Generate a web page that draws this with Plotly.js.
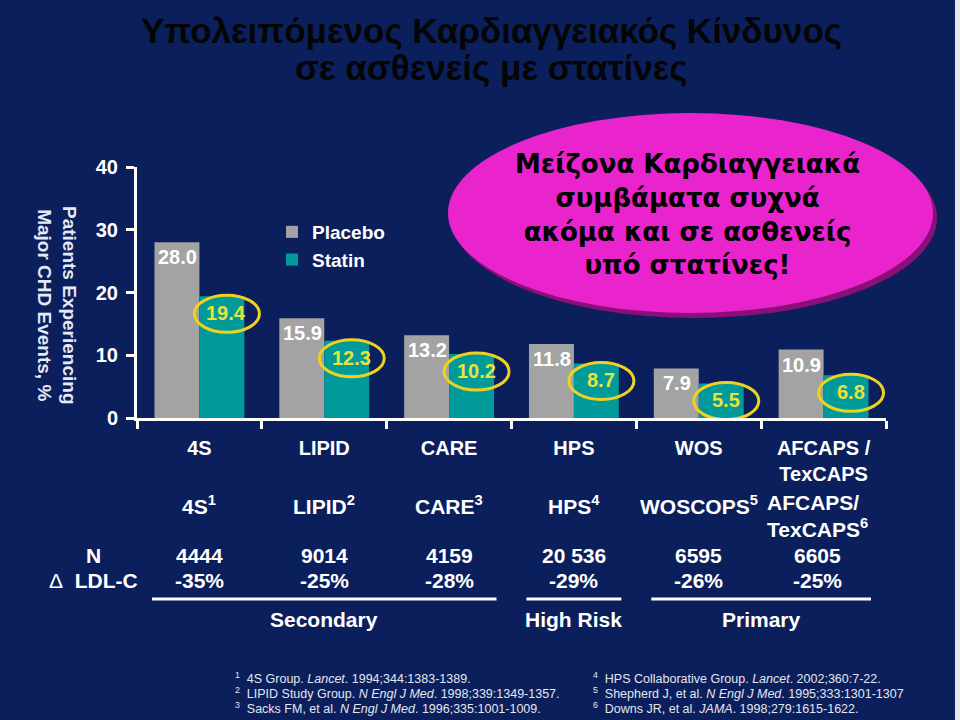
<!DOCTYPE html>
<html>
<head>
<meta charset="utf-8">
<script src="https://cdn.plot.ly/plotly-3.0.1.min.js"></script>
<style>html,body{margin:0;padding:0;background:#0c2160;}#chart{width:960px;height:720px;}</style>
</head>
<body>
<div id="chart"></div>
<script>
// ---- data ----
const studies = ['4S', 'LIPID', 'CARE', 'HPS', 'WOS', 'AFCAPS /<br>TexCAPS'];
const placebo = [28.0, 15.9, 13.2, 11.8, 7.9, 10.9];
const statin = [19.4, 12.3, 10.2, 8.7, 5.5, 6.8];
const trialNames = ['4S', 'LIPID', 'CARE', 'HPS', 'WOSCOPS', 'AFCAPS/<br>TexCAPS'];
const refNums = ['1', '2', '3', '4', '5', '6'];
const nPatients = ['4444', '9014', '4159', '20 536', '6595', '6605'];
const ldlChange = ['-35%', '-25%', '-28%', '-29%', '-26%', '-25%'];
const groupNames = ['Secondary', 'High Risk', 'Primary'];
const groupFirst = [0, 3, 4];
const groupLast = [2, 3, 5];
const yTicks = [0, 10, 20, 30, 40];
const refsLeft = [
  '<sup>1</sup>  4S Group. <i>Lancet</i>. 1994;344:1383-1389.',
  '<sup>2</sup>  LIPID Study Group. <i>N Engl J Med</i>. 1998;339:1349-1357.',
  '<sup>3</sup>  Sacks FM, et al. <i>N Engl J Med</i>. 1996;335:1001-1009.'
];
const refsRight = [
  '<sup>4</sup>  HPS Collaborative Group. <i>Lancet</i>. 2002;360:7-22.',
  '<sup>5</sup>  Shepherd J, et al. <i>N Engl J Med</i>. 1995;333:1301-1307',
  '<sup>6</sup>  Downs JR, et al. <i>JAMA</i>. 1998;279:1615-1622.'
];
const titleLines = ['Υπολειπόμενος Καρδιαγγειακός Κίνδυνος', 'σε ασθενείς με στατίνες'];
const calloutText = 'Μείζονα Καρδιαγγειακά<br>συμβάματα συχνά<br>ακόμα και σε ασθενείς<br>υπό στατίνες!';
const yTitle = 'Patients Experiencing<br>Major CHD Events, %';

// ---- layout helpers (pixel -> paper) ----
const L = 137, R = 886, T = 167, B = 418;
const px = p => (p - L) / (R - L);
const py = p => (B - p) / (B - T);

const BG = '#0b1f5d';
const GRAY = '#a3a3a3';
const TEAL = '#009a9a';
const YEL = '#f0d21e';
const YTXT = '#e6e43c';
const F = 'Liberation Sans, Arial, sans-serif';

const traces = [
  {type: 'bar', name: 'Placebo', x: studies, y: placebo, marker: {color: GRAY}, hoverinfo: 'skip'},
  {type: 'bar', name: 'Statin', x: studies, y: statin, marker: {color: TEAL}, hoverinfo: 'skip'}
];

const annotations = [];
const shapes = [];

// value labels
placebo.forEach((v, i) => annotations.push({
  x: i, y: v, xref: 'x', yref: 'y', xshift: -22, yshift: -15,
  text: v.toFixed(1), showarrow: false,
  font: {family: F, size: 20, color: '#ffffff', weight: 'bold'}
}));
statin.forEach((v, i) => {
  annotations.push({
    x: i, y: v, xref: 'x', yref: 'y', xshift: 27, yshift: -17,
    text: v.toFixed(1), showarrow: false,
    font: {family: F, size: 20, color: YTXT, weight: 'bold'}
  });
  shapes.push({
    type: 'circle', xref: 'x', yref: 'y', xsizemode: 'pixel', ysizemode: 'pixel',
    xanchor: i, yanchor: v, x0: -5, x1: 60, y0: -36, y1: 1,
    line: {color: YEL, width: 3}, fillcolor: 'rgba(0,0,0,0)', layer: 'above'
  });
});

// title
titleLines.forEach((t, i) => annotations.push({
  xref: 'paper', yref: 'paper', x: px(491), y: py(30 + 38 * i), xanchor: 'center', yanchor: 'middle',
  text: t, showarrow: false, align: 'center',
  font: {family: F, size: 35, color: '#050505', weight: 'bold'}
}));

// y title (rotated clockwise)
annotations.push({
  xref: 'paper', yref: 'paper', x: px(57), y: py(305), xanchor: 'center', yanchor: 'middle',
  text: yTitle, showarrow: false, textangle: 90, align: 'center',
  font: {family: F, size: 19, color: '#e4e9f6', weight: 'bold'}
});

// callout ellipse
shapes.push({
  type: 'circle', xref: 'paper', yref: 'paper', layer: 'above',
  x0: px(452), x1: px(937), y0: py(118), y1: py(318),
  fillcolor: '#8a1078', line: {width: 0}
});
shapes.push({
  type: 'circle', xref: 'paper', yref: 'paper', layer: 'above',
  x0: px(448), x1: px(933), y0: py(113), y1: py(313),
  fillcolor: '#ea24cc', line: {width: 0}
});
annotations.push({
  xref: 'paper', yref: 'paper', x: px(687), y: py(214), xanchor: 'center', yanchor: 'middle',
  text: calloutText, showarrow: false, align: 'center',
  font: {family: 'DejaVu Sans, Verdana, sans-serif', size: 26, color: '#000000', weight: 'bold'}
});

// table rows
const TF = {family: F, size: 21, color: '#ffffff', weight: 'bold'};
trialNames.forEach((t, i) => {
  const multi = t.indexOf('<br>') >= 0;
  annotations.push({
    xref: 'x', yref: 'paper', x: i, y: py(multi ? 516 : 505), xanchor: 'center', yanchor: 'middle',
    xshift: multi ? -6 : 0,
    text: t + '<sup>' + refNums[i] + '</sup>', showarrow: false, align: multi ? 'left' : 'center',
    font: TF
  });
  annotations.push({
    xref: 'x', yref: 'paper', x: i, y: py(555), xanchor: 'center', yanchor: 'middle',
    xshift: multi ? -6 : 0,
    text: nPatients[i], showarrow: false, font: TF
  });
  annotations.push({
    xref: 'x', yref: 'paper', x: i, y: py(580), xanchor: 'center', yanchor: 'middle',
    xshift: multi ? -6 : 0,
    text: ldlChange[i], showarrow: false, font: TF
  });
});
annotations.push({
  xref: 'paper', yref: 'paper', x: px(93), y: py(555), xanchor: 'center', yanchor: 'middle',
  text: 'N', showarrow: false, font: TF
});
annotations.push({
  xref: 'paper', yref: 'paper', x: px(140), y: py(580), xanchor: 'right', yanchor: 'middle',
  text: '<span style="font-weight:normal">Δ</span>  LDL-C', showarrow: false, font: TF
});

// group lines and labels
groupNames.forEach((g, k) => {
  const a = groupFirst[k] - 0.5 + 0.12, b = groupLast[k] + 0.5 - 0.12;
  shapes.push({
    type: 'line', xref: 'x', yref: 'paper', x0: a, x1: b, y0: py(599), y1: py(599),
    line: {color: '#ffffff', width: 3}
  });
  annotations.push({
    xref: 'x', yref: 'paper', x: (a + b) / 2, y: py(619), xanchor: 'center', yanchor: 'middle',
    text: g, showarrow: false, font: TF
  });
});

// footnotes
const FF = {family: F, size: 12.5, color: '#e4e6ee'};
refsLeft.forEach((t, i) => annotations.push({
  xref: 'paper', yref: 'paper', x: px(233), y: py(678 + 15 * i), xanchor: 'left', yanchor: 'middle',
  text: t, showarrow: false, font: FF
}));
refsRight.forEach((t, i) => annotations.push({
  xref: 'paper', yref: 'paper', x: px(591), y: py(678 + 15 * i), xanchor: 'left', yanchor: 'middle',
  text: t, showarrow: false, font: FF
}));

// slide edge
shapes.push({
  type: 'rect', xref: 'paper', yref: 'paper', x0: px(955), x1: px(962), y0: py(-2), y1: py(722),
  fillcolor: '#e8e8ee', line: {width: 0}, layer: 'above'
});

const layout = {
  width: 960, height: 720,
  paper_bgcolor: BG, plot_bgcolor: BG,
  margin: {l: L, r: 960 - R, t: T, b: 720 - B, pad: 0},
  barmode: 'group', bargap: 0.28, bargroupgap: 0,
  showlegend: true,
  legend: {
    x: px(272), y: py(213), xanchor: 'left', yanchor: 'top',
    bgcolor: 'rgba(0,0,0,0)', font: {family: F, size: 19, color: '#ffffff', weight: 'bold'},
    itemwidth: 30, tracegroupgap: 0
  },
  xaxis: {
    type: 'category', range: [-0.5, 5.5], fixedrange: true,
    showline: true, linecolor: '#ffffff', linewidth: 3,
    ticks: 'outside', tickson: 'boundaries', ticklen: 8, tickwidth: 3, tickcolor: '#ffffff',
    tickfont: {family: F, size: 20, color: '#ffffff', weight: 'bold'},
    showgrid: false, zeroline: false, ticklabelstandoff: 10
  },
  yaxis: {
    range: [0, 40], tickvals: yTicks, fixedrange: true,
    showline: true, linecolor: '#ffffff', linewidth: 3,
    ticks: 'outside', ticklen: 8, tickwidth: 3, tickcolor: '#ffffff',
    tickfont: {family: F, size: 20, color: '#ffffff', weight: 'bold'},
    showgrid: false, zeroline: false, ticklabelstandoff: 4
  },
  annotations: annotations,
  shapes: shapes
};

Plotly.newPlot('chart', traces, layout, {displayModeBar: false, staticPlot: true});
</script>
</body>
</html>
